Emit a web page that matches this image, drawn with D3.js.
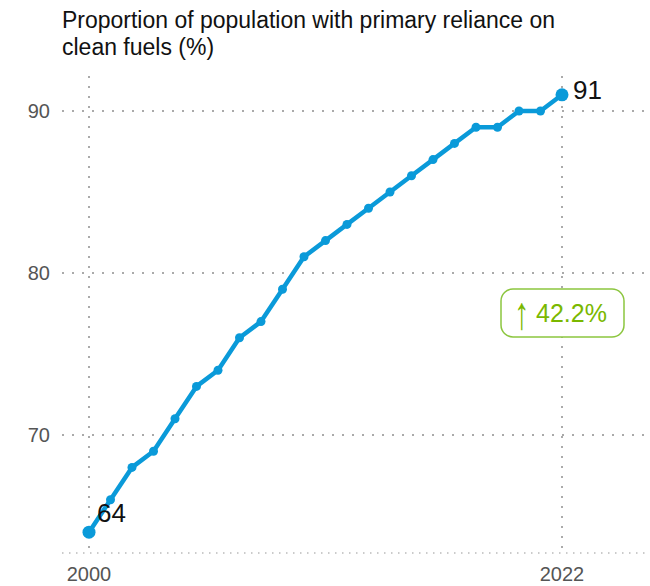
<!DOCTYPE html>
<html><head><meta charset="utf-8">
<script src="https://cdn.jsdelivr.net/npm/d3@7"></script>
<style>body{margin:0;background:#fff;} svg{display:block;font-family:"Liberation Sans",Arial,sans-serif;}</style>
</head><body>
<script>
const years = [2000,2001,2002,2003,2004,2005,2006,2007,2008,2009,2010,2011,2012,2013,2014,2015,2016,2017,2018,2019,2020,2021,2022];
const values = [64,66,68,69,71,73,74,76,77,79,81,82,83,84,85,86,87,88,89,89,90,90,91];
const yTicks = [70,80,90];
const xTicks = [2000,2022];
const titleLines = ["Proportion of population with primary reliance on","clean fuels (%)"];
const changeArrow = "\u2191";
const changeLabel = "42.2%";

const W=650,H=586;
const svg=d3.select("body").append("svg").attr("width",W).attr("height",H);
const x=d3.scaleLinear().domain([2000,2022]).range([89,562]);
const y=d3.scaleLinear().domain([70,90]).range([435,111]);
const grid="#aaaaaa";

svg.append("g").selectAll("text").data(titleLines).join("text")
  .attr("x",62).attr("y",(d,i)=>28+i*27).attr("font-size",23).attr("fill","#111")
  .attr("textLength",(d,i)=>i===0?493:null).attr("lengthAdjust","spacingAndGlyphs").text(d=>d);

// horizontal gridlines
svg.append("g").selectAll("line").data(yTicks).join("line")
  .attr("x1",62).attr("x2",W).attr("y1",d=>y(d)).attr("y2",d=>y(d))
  .attr("stroke",grid).attr("stroke-width",2).attr("stroke-dasharray","2,8");
// bottom axis line
svg.append("line").attr("x1",62).attr("x2",W).attr("y1",553).attr("y2",553)
  .attr("stroke","#bbb").attr("stroke-width",1.5).attr("stroke-dasharray","1.5,5.5");
// vertical gridlines
svg.append("g").selectAll("line").data(xTicks).join("line")
  .attr("x1",d=>x(d)).attr("x2",d=>x(d)).attr("y1",76).attr("y2",556)
  .attr("stroke",grid).attr("stroke-width",2).attr("stroke-dasharray","2,8");

svg.append("g").selectAll("text").data(yTicks).join("text")
  .attr("x",50).attr("y",d=>y(d)+7).attr("text-anchor","end").attr("font-size",20).attr("fill","#555").text(d=>d);
svg.append("g").selectAll("text").data(xTicks).join("text")
  .attr("x",d=>x(d)).attr("y",581).attr("text-anchor","middle").attr("font-size",20).attr("fill","#555").text(d=>d);

const c="#0a9ad9";
const line=d3.line().x((d,i)=>x(years[i])).y(d=>y(d));
svg.append("path").datum(values).attr("d",line).attr("fill","none").attr("stroke",c).attr("stroke-width",4.5).attr("stroke-linejoin","round");
svg.append("g").selectAll("circle").data(values).join("circle")
  .attr("cx",(d,i)=>x(years[i])).attr("cy",d=>y(d))
  .attr("r",(d,i)=>(i===0||i===values.length-1)?6.5:4.5).attr("fill",c);

const n=values.length-1;
svg.append("text").attr("x",x(years[0])+8).attr("y",y(values[0])-10).attr("font-size",26).attr("fill","#111").text(values[0]);
svg.append("text").attr("x",x(years[n])+11).attr("y",y(values[n])+4).attr("font-size",26).attr("fill","#111").text(values[n]);

const g=svg.append("g");
g.append("rect").attr("x",501).attr("y",289).attr("width",123).attr("height",48).attr("rx",12)
  .attr("fill","#fff").attr("stroke","#8cc63f").attr("stroke-width",1.5);
g.append("text").attr("transform","translate(522,329) scale(0.9,1.35)").attr("text-anchor","middle").attr("font-size",34)
  .attr("fill","#7ab800").text(changeArrow);
g.append("text").attr("x",536).attr("y",322).attr("font-size",25).attr("fill","#7ab800").text(changeLabel);
</script>
</body></html>
